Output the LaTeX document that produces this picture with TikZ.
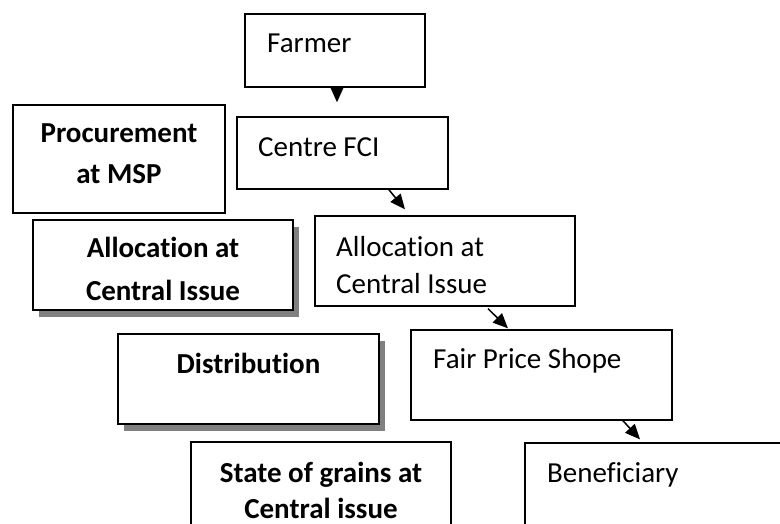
\documentclass[tikz,border=0pt]{standalone}
\usepackage{fontspec}
\setmainfont{Carlito}[Ligatures=NoCommon]
\usepackage{tikz}
\usetikzlibrary{positioning}
\usetikzlibrary{arrows.meta,shadows}
\usetikzlibrary{calc}

\tikzset{
  box/.style={rectangle,draw=black,line width=1.3pt,fill=white,inner sep=0pt},
  shade box/.style={box,drop shadow={shadow xshift=5.5pt,shadow yshift=-7pt,fill=black!50,opacity=1}},
  txt/.style={inner sep=0pt,anchor=base west},
  btxt/.style={inner sep=0pt,anchor=base,align=center,font=\bfseries},
  flow/.style={line width=1.5pt,-{Triangle[length=15pt,width=13pt]}}
}

\begin{document}
\begin{tikzpicture}[x=1pt,y=-1pt]
\fontsize{29}{41}\selectfont
\useasboundingbox (0,0) rectangle (780,524);
\clip (0,0) rectangle (780,524);

% chain of boxes on the right
\node[box,minimum width=180pt,minimum height=73pt] (farmer) at (335,50.5) {};
\node[box,minimum width=211pt,minimum height=72pt] (centre) at (342.5,153) {};
\node[box,minimum width=260pt,minimum height=90pt] (allocr) at (445,261) {};
\node[box,minimum width=261pt,minimum height=90pt] (fair) at (541.5,375) {};
\node[box,minimum width=260pt,minimum height=90pt] (benef) at (655,488) {};

% stages on the left
\node[box,minimum width=212pt,minimum height=108pt] (procure) at (119,159) {};
\node[shade box,minimum width=260pt,minimum height=90pt] (allocl) at (163,265) {};
\node[shade box,minimum width=261pt,minimum height=90pt] (distrib) at (248.5,379) {};
\node[box,minimum width=260pt,minimum height=90pt] (state) at (321,487) {};

% texts (multi-line ones sit on their last baseline)
\node[txt] (farmertext) at (267,53) {Farmer};
\node[txt] (centretext) at (258,157) {Centre FCI};
\node[txt,align=left] (allocrtext) at (336,294) {Allocation at\\[-3pt]Central Issue};
\node[txt] (fairtext) at (433,368) {Fair Price Shope};
\node[txt] (beneftext) at (547,482) {Beneficiary};

\node[btxt] (procuretext) at (119,184) {Procurement\\at MSP};
\node[btxt] (allocltext) at (163,300) {Allocation at\\[2pt]Central Issue};
\node[btxt] (distribtext) at (248.5,373) {Distribution};
\node[btxt] (statetext) at (321,518) {State of grains at\\[-5pt]Central issue};

% arrows
\draw[flow] ($(farmer.south)+(2,0)$) -- ($(centre.north)+(-5.5,-14)$);
\draw[flow] ($(centre.south)+(45.5,-1)$) -- ($(allocr.north)+(-40,-6)$);
\draw[flow] ($(allocr.south)+(43,2)$) -- ($(fair.north)+(-33.5,-1)$);
\draw[flow] ($(fair.south)+(80.5,-1)$) -- ($(benef.north)+(-15,-3)$);

\end{tikzpicture}
\end{document}
